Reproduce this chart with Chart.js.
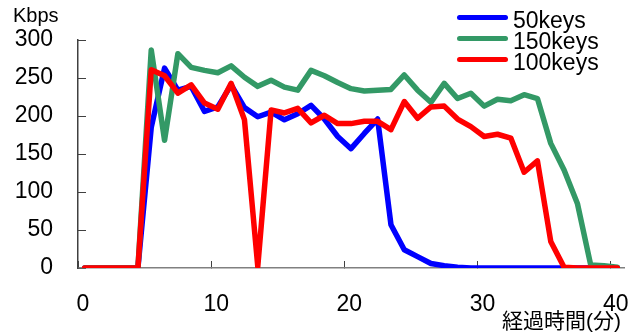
<!DOCTYPE html>
<html>
<head>
<meta charset="utf-8">
<script src="https://cdn.jsdelivr.net/npm/chart.js@4/dist/chart.umd.min.js"></script>
<style>
  html, body { margin: 0; padding: 0; background: #fff; }
  #wrap { position: relative; width: 633px; height: 332px; font-family: 'Liberation Sans', Arial, sans-serif; color: #000; }
  #wrap canvas { position: absolute; left: 0; top: 0; }
  .txt { position: absolute; line-height: 1; white-space: nowrap; }
  .unit { left: 13px; top: 5px; font-size: 20px; }
  .xtitle { left: 502px; top: 310px; font-size: 21px; font-family: 'Liberation Sans', 'Noto Sans CJK JP', sans-serif; }
  .lg-line { position: absolute; left: 457px; width: 51px; height: 5px; border-radius: 3px; }
  .lg-text { left: 513px; font-size: 23px; }
</style>
</head>
<body>
<div id="wrap">
  <canvas id="chart" width="633" height="332"></canvas>
  <div class="txt unit">Kbps</div>
  <div class="txt xtitle">経過時間(分)</div>
  <div id="legend"></div>
</div>
<script>
// minutes (one sample per minute, plotted between tick marks)
var minutes = [];
for (var m = 0; m <= 40; m++) { minutes.push(m); }

var keys50 = [0, 0, 0, 0, 0, 185, 263, 234, 239, 206, 212, 241, 211, 199, 205, 195, 203, 214, 196, 173,
  157, 177, 196, 57, 24, 15, 6, 3, 1, 0, 0, 0, 0, 0, 0, 0, 0, 0, 0, 0, 0];
var keys150 = [0, 0, 0, 0, 0, 287, 168, 282, 264, 260, 257, 266, 251, 239, 247, 238, 234, 260, 253, 244,
  236, 233, 234, 235, 254, 234, 218, 243, 223, 230, 213, 222, 220, 228, 223, 164, 129, 85, 4, 3, 1];
var keys100 = [0, 0, 0, 0, 0, 261, 253, 230, 241, 217, 209, 243, 195, 2, 208, 204, 210, 191, 201, 190,
  190, 193, 193, 182, 219, 197, 212, 213, 196, 186, 173, 176, 171, 126, 141, 35, 1, 0, 0, 0, 0];

var xTicks = [0, 10, 20, 30, 40];
var yTicks = [0, 50, 100, 150, 200, 250, 300];

var series = [
  { label: '50keys', data: keys50, color: '#0000ff', order: 2 },
  { label: '150keys', data: keys150, color: '#339966', order: 1 },
  { label: '100keys', data: keys100, color: '#ff0000', order: 0 }
];

(function () {
  var fontFamily = "'Liberation Sans', Arial, sans-serif";

  // legend, drawn as html over the plot (top right)
  var legend = document.getElementById('legend');
  series.forEach(function (s, i) {
    var line = document.createElement('div');
    line.className = 'lg-line';
    line.style.top = (15 + i * 21) + 'px';
    line.style.background = s.color;
    legend.appendChild(line);

    var txt = document.createElement('div');
    txt.className = 'txt lg-text';
    txt.style.top = (9 + i * 21) + 'px';
    txt.textContent = s.label;
    legend.appendChild(txt);
  });

  // keep the plot box fixed: no extra room for half labels
  function noPadding(scale) {
    scale.paddingLeft = 0;
    scale.paddingRight = 0;
    scale.paddingTop = 0;
    scale.paddingBottom = 0;
  }

  new Chart(document.getElementById('chart'), {
    type: 'line',
    data: {
      labels: minutes,
      datasets: series.map(function (s) {
        return {
          label: s.label,
          data: s.data,
          order: s.order,
          borderColor: s.color,
          backgroundColor: s.color,
          borderWidth: 5.5,
          borderCapStyle: 'round',
          borderJoinStyle: 'round',
          pointRadius: 0,
          tension: 0,
          fill: false
        };
      })
    },
    options: {
      responsive: false,
      animation: false,
      events: [],
      layout: { padding: { top: 40, right: 9, left: 0, bottom: 0 } },
      plugins: { legend: { display: false }, tooltip: { enabled: false } },
      scales: {
        x: {
          type: 'category',
          offset: true,
          display: false
        },
        xt: {
          type: 'linear',
          position: 'bottom',
          min: 0,
          max: minutes.length,
          afterBuildTicks: function (scale) {
            scale.ticks = xTicks.map(function (v) { return { value: v }; });
          },
          afterFit: function (scale) {
            scale.height = 64;
            noPadding(scale);
          },
          border: { display: true, color: '#808080', width: 1.5 },
          grid: { drawOnChartArea: false, drawTicks: true, tickLength: -7, color: '#404040' },
          ticks: {
            autoSkip: false,
            maxRotation: 0,
            padding: 30,
            labelOffset: 5,
            color: '#000',
            font: { family: fontFamily, size: 23 }
          }
        },
        y: {
          min: 0,
          max: 300,
          afterBuildTicks: function (scale) {
            scale.ticks = yTicks.map(function (v) { return { value: v }; });
          },
          afterFit: function (scale) {
            scale.width = 78;
            noPadding(scale);
          },
          border: { display: true, color: '#404040', width: 1.5 },
          grid: { drawOnChartArea: false, drawTicks: true, tickLength: -8, color: '#404040' },
          ticks: {
            padding: 33,
            color: '#000',
            font: { family: fontFamily, size: 23 }
          }
        }
      }
    }
  });
})();
</script>
</body>
</html>
